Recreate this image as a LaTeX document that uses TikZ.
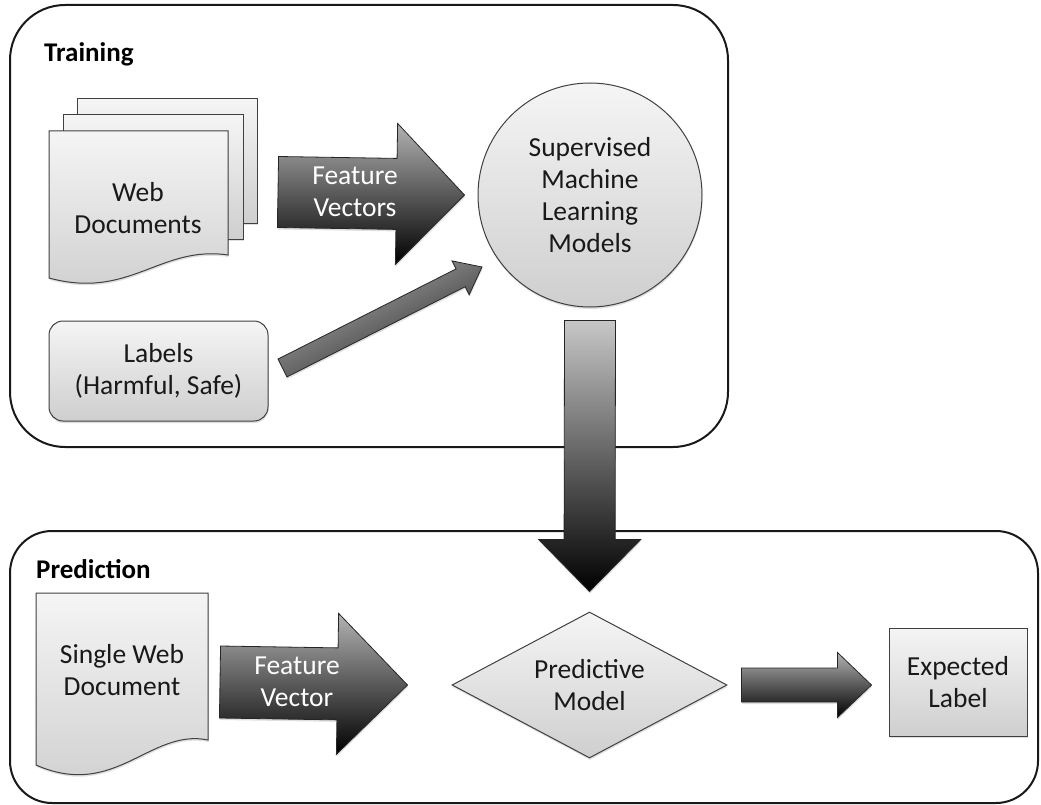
\documentclass[tikz,border=0pt]{standalone}
\usepackage{fontspec}
\setmainfont{Carlito}
\usetikzlibrary{calc}
\usetikzlibrary{shapes.geometric}
\usetikzlibrary{shadows}
\colorlet{edge}{black!75}
\newcommand{\blockarrow}[6][]{\coordinate (ba) at ($(#3)!#6!(#2)$);
 \path[#1] ($(#2)!#4!90:(#3)$) -- ($(ba)!#4!90:(#3)$) -- ($(ba)!#5!90:(#3)$) -- (#3)
  -- ($(ba)!#5!-90:(#3)$) -- ($(ba)!#4!-90:(#3)$) -- ($(#2)!#4!-90:(#3)$) -- cycle;}
\tikzset{
	phase/.style={draw=black!90,line width=2pt,rounded corners=#1},
	title/.style={anchor=base west,inner sep=0pt,font=\fontsize{27}{32}\selectfont\bfseries},
	txt/.style={align=center,inner sep=0pt,font=\fontsize{27.5}{32}\selectfont,text=black!90},
	wtxt/.style={align=center,inner sep=0pt,font=\fontsize{27.5}{32}\selectfont,text=white},
	shad/.style={drop shadow={shadow xshift=.5pt,shadow yshift=-2pt,opacity=.25}},
	page/.style={draw=edge,line width=1pt,top color=black!4,bottom color=black!19},
	fat/.style={draw=black!85,line width=.8pt,top color=black!30,bottom color=black},
	tall/.style={draw=black!85,line width=.8pt,top color=black!22,bottom color=black},
	slim/.style={draw=black!85,line width=.8pt,top color=black!30,bottom color=black!85,shading angle=27},
	}

\begin{document}
\begin{tikzpicture}[x=1pt,y=-1pt]
 \fill[white] (0,0) rectangle (1041,805);
 \useasboundingbox (0,0) rectangle (1041,805);
 \draw[phase=55pt] (10,5) rectangle (728,447);
 \draw[phase=42pt] (10,531) rectangle (1038,803);

\node[title] (trn) at (44,62) {Training};
\node[title] (prd) at (36,578) {Prediction};

  \foreach \x/\y in {77/99,63/115}
  \draw[page,shad] (\x,\y) rectangle +(180,124);
 \draw[page,shad] (49,131) -- (228,131) -- (228,255) .. controls (160,245) and (130,300) .. (49,278) -- cycle;
\node[txt] (webdocs) at (138,208) {Web\\Documents};
 \draw[page,shad] (36,593) -- (208,593) -- (208,740) .. controls (150,728) and (115,800) .. (36,765) -- cycle;
\node[txt] (single) at (122,670) {Single Web\\Document};

\node[circle,page,shad,minimum size=224pt,txt] (sml) at (590,195) {Supervised\\Machine\\Learning\\Models};
\node[page,shad,rounded corners=14pt,minimum width=219pt,minimum height=100pt,txt] (lab) at (158.5,371) {Labels\\(Harmful, Safe)};
\node[diamond,page,shad,minimum width=275pt,minimum height=146pt,aspect=1.88,txt] (pm) at (589.5,685) {Predictive\\Model};
\node[page,shad,minimum width=138pt,minimum height=108pt,txt] (exp) at (958,682) {Expected\\Label};

\coordinate (fv1a) at (278,192); \coordinate (fv1b) at ([xshift=-13pt]sml.west);
\coordinate (dga) at ([xshift=14pt,yshift=3pt]lab.east); \coordinate (dgb) at ($(sml)+(-108,72)$);
\coordinate (dna) at ([yshift=-13pt]sml.south); \coordinate (dnb) at ([yshift=20pt]pm.north);
\coordinate (fv2a) at ([xshift=12pt]208,682); \coordinate (fv2b) at ([xshift=-44pt]pm.west);
\coordinate (outa) at ([xshift=14pt]pm.east); \coordinate (outb) at ([xshift=-17pt]exp.west |- pm.east);

 \blockarrow[fat,shad]{fv1a}{fv1b}{35.5pt}{70.5pt}{68pt}
 \blockarrow[slim,shad]{dga}{dgb}{10pt}{19pt}{24pt}
 \blockarrow[tall,shad]{dna}{dnb}{25.5pt}{51pt}{52pt}
 \blockarrow[fat,shad]{fv2a}{fv2b}{36pt}{70.5pt}{70pt}
 \blockarrow[fat,shad]{outa}{outb}{17pt}{32.5pt}{34pt}
\node[wtxt] (fv1) at (355,192) {Feature\\Vectors};
\node[wtxt] (fv2) at (297,682) {Feature\\Vector};
\end{tikzpicture}
\end{document}
